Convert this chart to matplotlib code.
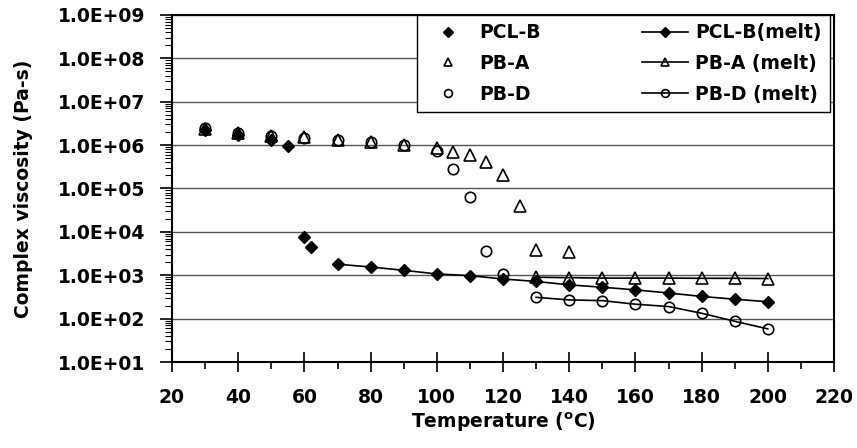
import matplotlib
matplotlib.use('Agg')
from matplotlib import pyplot as plt
from matplotlib.ticker import FuncFormatter, MultipleLocator, LogLocator, NullFormatter

# data
pclb_t = [30, 40, 50, 55, 60, 62]
pclb_v = [2.2e6, 1.7e6, 1.3e6, 9.3e5, 7.8e3, 4.6e3]

pba_t = [30, 40, 50, 60, 70, 80, 90, 100, 105, 110, 115, 120, 125, 130, 140]
pba_v = [2.3e6, 1.9e6, 1.6e6, 1.5e6, 1.3e6, 1.17e6, 1.0e6, 8.5e5, 7.1e5,
         5.9e5, 4.0e5, 2.0e5, 4.0e4, 3.9e3, 3.4e3]

pbd_t = [30, 40, 50, 60, 70, 80, 90, 100, 105, 110, 115, 120]
pbd_v = [2.5e6, 1.9e6, 1.6e6, 1.45e6, 1.3e6, 1.2e6, 1.0e6, 7.4e5, 2.8e5,
         6.5e4, 3.7e3, 1.05e3]

pclb_melt_t = [70, 80, 90, 100, 110, 120, 130, 140, 150, 160, 170, 180, 190, 200]
pclb_melt_v = [1.8e3, 1.55e3, 1.3e3, 1.07e3, 980, 820, 720, 600, 530, 460,
               390, 325, 280, 245]

pba_melt_t = [130, 140, 150, 160, 170, 180, 190, 200]
pba_melt_v = [900, 880, 860, 860, 860, 850, 850, 840]

pbd_melt_t = [130, 140, 150, 160, 170, 180, 190, 200]
pbd_melt_v = [310, 270, 260, 215, 190, 133, 87, 58]

plt.rcParams['font.family'] = ['DejaVu Sans']
plt.rcParams['font.weight'] = 'bold'
FS = 13.5

fig = plt.figure(figsize=(8.57, 4.48), dpi=100)
ax = fig.add_axes([172/857, 86/448, 662/857, 347/448])

open_kw = dict(markerfacecolor='none', markeredgecolor='black', markeredgewidth=1.2)

ax.plot(pclb_t, pclb_v, 'D', color='black', ms=6.2, label='PCL-B', zorder=4)
ax.plot(pba_t, pba_v, '^', ms=8.5, label='PB-A', zorder=3, **open_kw)
ax.plot(pbd_t, pbd_v, 'o', ms=7.5, label='PB-D', zorder=3, **open_kw)
ax.plot(pclb_melt_t, pclb_melt_v, '-D', color='black', ms=6.2, lw=1.2,
        label='PCL-B(melt)', zorder=4)
ax.plot(pba_melt_t, pba_melt_v, '-^', color='black', ms=8.5, lw=1.2,
        label='PB-A (melt)', zorder=3, **open_kw)
ax.plot(pbd_melt_t, pbd_melt_v, '-o', color='black', ms=7.5, lw=1.2,
        label='PB-D (melt)', zorder=3, **open_kw)

ax.set_yscale('log')
ax.set_ylim(1e1, 1e9)
ax.set_xlim(20, 220)

ax.xaxis.set_major_locator(MultipleLocator(20))
ax.xaxis.set_minor_locator(MultipleLocator(10))
ax.yaxis.set_major_locator(LogLocator(base=10, numticks=20))
ax.yaxis.set_minor_locator(LogLocator(base=10, subs=range(2, 10), numticks=100))
ax.yaxis.set_minor_formatter(NullFormatter())
ax.yaxis.set_major_formatter(FuncFormatter(lambda v, p: f'{v:.1E}'))

ax.tick_params(axis='x', which='major', direction='inout', length=14, width=1.2,
               labelsize=FS, pad=12)
ax.tick_params(axis='x', which='minor', direction='out', length=5, width=1.2)
ax.tick_params(axis='y', which='major', direction='out', length=9, width=1.2,
               labelsize=FS, pad=10)
ax.tick_params(axis='y', which='minor', direction='out', length=5, width=0.8)

ax.grid(axis='y', which='major', color='#555555', lw=1.0)
ax.set_axisbelow(True)
for s in ax.spines.values():
    s.set_linewidth(1.5)

ax.set_xlabel('Temperature ($^{\\mathbf{o}}$C)', fontsize=FS, fontweight='bold')
ax.set_ylabel('Complex viscosity (Pa-s)', fontsize=FS, fontweight='bold')
ax.xaxis.set_label_coords(0.5, -0.14)
ax.yaxis.set_label_coords(-0.21, 0.5)

leg = ax.legend(ncol=2, loc='upper left', bbox_to_anchor=((417 - 172) / 662, 1.0),
                borderaxespad=0, fontsize=FS, handlelength=2.45, fancybox=False,
                framealpha=1, edgecolor='black', columnspacing=5.4,
                labelspacing=0.62, borderpad=0.45, handletextpad=0.4,
                markerscale=0.75)
leg.get_frame().set_linewidth(1.0)
leg.set_zorder(5)

fig.savefig('out.png', dpi=100)
